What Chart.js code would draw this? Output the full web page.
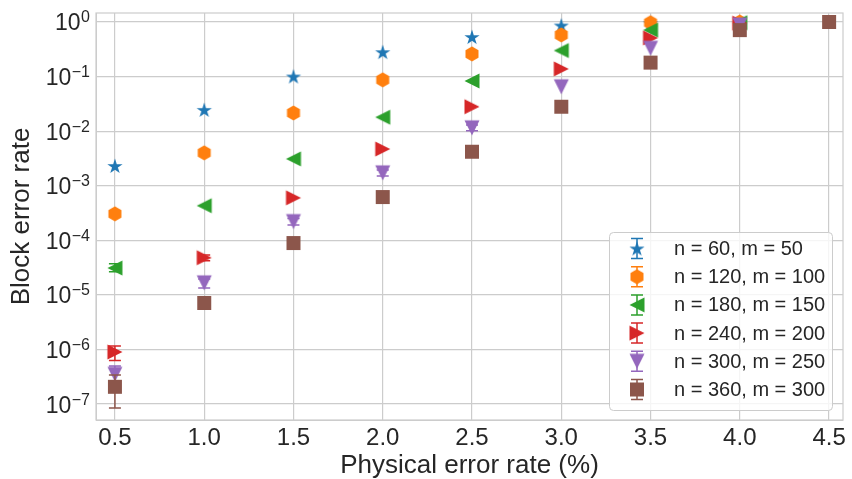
<!DOCTYPE html>
<html><head><meta charset="utf-8">
<script src="https://cdn.jsdelivr.net/npm/chart.js@4/dist/chart.umd.min.js"></script>
<style>html,body{margin:0;padding:0;background:#fff;overflow:hidden}</style>
</head><body>
<canvas id="c" width="852" height="479"></canvas>
<script>
// ---------------- data ----------------
const physicalErrorRates = [0.5, 1.0, 1.5, 2.0, 2.5, 3.0, 3.5, 4.0, 4.5];
const seriesLabels = ['n = 60, m = 50', 'n = 120, m = 100', 'n = 180, m = 150',
                      'n = 240, m = 200', 'n = 300, m = 250', 'n = 360, m = 300'];
const n60  = [2.3e-3, 2.45e-2, 0.10, 0.28, 0.53, 0.86, 0.95, null, null];
const n120 = [3.05e-4, 4.0e-3, 0.0215, 0.087, 0.26, 0.58, 0.97, 1.0, null];
const n180 = [3.1e-5, 4.3e-4, 3.1e-3, 0.018, 0.083, 0.30, 0.71, 0.97, null];
const n240 = [9.0e-7, 4.8e-5, 6.0e-4, 4.7e-3, 0.028, 0.138, 0.51, 0.95, null];
const n300 = [3.5e-7, 1.66e-5, 2.2e-4, 1.72e-3, 0.0115, 0.065, 0.33, 0.88, null];
const n360 = [2.07e-7, 7.1e-6, 8.9e-5, 6.2e-4, 4.2e-3, 0.028, 0.18, 0.71, 1.0];
// error bar bounds (null = no visible bar)
const n60Lo  = [null, null, null, null, null, null, null, null, null];
const n60Hi  = [null, null, null, null, null, null, null, null, null];
const n120Lo = [null, null, null, null, null, null, null, null, null];
const n120Hi = [null, null, null, null, null, null, null, null, null];
const n180Lo = [2.64e-5, null, null, null, null, null, null, null, null];
const n180Hi = [3.7e-5, null, null, null, null, null, null, null, null];
const n240Lo = [6.3e-7, 4.2e-5, null, null, null, null, null, null, null];
const n240Hi = [1.16e-6, 5.4e-5, null, null, null, null, null, null, null];
const n300Lo = [2.4e-7, 1.34e-5, 1.9e-4, 1.5e-3, 0.0102, null, null, null, null];
const n300Hi = [5.0e-7, 1.96e-5, 2.5e-4, 1.95e-3, 0.0130, null, null, null, null];
const n360Lo = [8.5e-8, null, null, null, null, null, null, null, null];
const n360Hi = [3.4e-7, null, null, null, null, null, null, null, null];
const xTickValues = [0.5, 1.0, 1.5, 2.0, 2.5, 3.0, 3.5, 4.0, 4.5];
const yTickExponents = [0, -1, -2, -3, -4, -5, -6, -7];
const xTitle = 'Physical error rate (%)';
const yTitle = 'Block error rate';

// ---------------- styling ----------------
const colors = ['#1f77b4', '#ff7f0e', '#2ca02c', '#d62728', '#9467bd', '#8c564b'];
const shapes = ['star', 'hexagon', 'left', 'right', 'down', 'square'];
const FONT = '"Liberation Sans", Arial, sans-serif';
const TEXT = '#262626';
const GRID = '#cccccc';

function markerCanvas(kind, color) {
  const S = 20, c = document.createElement('canvas');
  c.width = S; c.height = S;
  const g = c.getContext('2d');
  g.translate(S / 2, S / 2);
  g.fillStyle = color;
  g.beginPath();
  if (kind === 'star') {
    const R = 8, r = R * 0.381966;
    for (let k = 0; k < 10; k++) {
      const a = -Math.PI / 2 + k * Math.PI / 5, rr = k % 2 ? r : R;
      g.lineTo(rr * Math.cos(a), rr * Math.sin(a) + 0.6);
    }
  } else if (kind === 'hexagon') {
    const R = 7.5;
    for (let k = 0; k < 6; k++) {
      const a = -Math.PI / 2 + k * Math.PI / 3;
      g.lineTo(R * Math.cos(a), R * Math.sin(a));
    }
  } else if (kind === 'left') {
    const h = 7.5; g.moveTo(-h, 0); g.lineTo(h, -h); g.lineTo(h, h);
  } else if (kind === 'right') {
    const h = 7.5; g.moveTo(h, 0); g.lineTo(-h, -h); g.lineTo(-h, h);
  } else if (kind === 'down') {
    const h = 7.5; g.moveTo(0, h); g.lineTo(-h, -h); g.lineTo(h, -h);
  } else {
    const h = 7; g.rect(-h, -h, 2 * h, 2 * h);
  }
  g.closePath();
  g.fill();
  return c;
}

const seriesValues = [n60, n120, n180, n240, n300, n360];
const seriesLo = [n60Lo, n120Lo, n180Lo, n240Lo, n300Lo, n360Lo];
const seriesHi = [n60Hi, n120Hi, n180Hi, n240Hi, n300Hi, n360Hi];
const markers = shapes.map((s, i) => markerCanvas(s, colors[i]));

const datasets = seriesValues.map((vals, i) => {
  const pts = [];
  vals.forEach((v, j) => {
    if (v !== null) pts.push({x: physicalErrorRates[j], y: v, lo: seriesLo[i][j], hi: seriesHi[i][j]});
  });
  return {
    label: seriesLabels[i],
    data: pts,
    pointStyle: markers[i],
    pointRadius: 8,
    pointHoverRadius: 8,
    showLine: false,
    order: 6 - i,
    backgroundColor: colors[i],
    borderColor: colors[i]
  };
});

function drawErrorBar(ctx, x, yTop, yBot, color) {
  ctx.save();
  ctx.strokeStyle = color;
  ctx.lineWidth = 1.5;
  ctx.beginPath();
  ctx.moveTo(x, yTop); ctx.lineTo(x, yBot);
  ctx.moveTo(x - 6, yTop); ctx.lineTo(x + 6, yTop);
  ctx.moveTo(x - 6, yBot); ctx.lineTo(x + 6, yBot);
  ctx.stroke();
  ctx.restore();
}

const errorBarPlugin = {
  id: 'errorBars',
  beforeDatasetDraw(chart, args) {
    const ctx = chart.ctx, ys = chart.scales.y, xs = chart.scales.x;
    const ds = chart.data.datasets[args.index];
    ctx.save();
    const a = chart.chartArea;
    ctx.beginPath(); ctx.rect(a.left, a.top, a.right - a.left, a.bottom - a.top); ctx.clip();
    ds.data.forEach(p => {
      if (p.lo == null || p.hi == null) return;
      drawErrorBar(ctx, xs.getPixelForValue(p.x), ys.getPixelForValue(p.hi), ys.getPixelForValue(p.lo), colors[args.index]);
    });
    ctx.restore();
  }
};

const decorPlugin = {
  id: 'decor',
  beforeDraw(chart) {
    const ctx = chart.ctx;
    ctx.save(); ctx.fillStyle = '#fff'; ctx.fillRect(0, 0, chart.width, chart.height); ctx.restore();
  },
  afterDraw(chart) {
    const ctx = chart.ctx, a = chart.chartArea, xs = chart.scales.x, ys = chart.scales.y;
    ctx.save();
    // frame
    ctx.strokeStyle = GRID; ctx.lineWidth = 1.2;
    ctx.strokeRect(a.left, a.top, a.right - a.left, a.bottom - a.top);
    ctx.fillStyle = TEXT;
    // x tick labels
    ctx.font = '24px ' + FONT;
    ctx.textAlign = 'center'; ctx.textBaseline = 'alphabetic';
    xTickValues.forEach(v => ctx.fillText(v.toFixed(1), xs.getPixelForValue(v), 445));
    // y tick labels
    yTickExponents.forEach(e => {
      const gy = ys.getPixelForValue(Math.pow(10, e));
      const expStr = e === 0 ? '0' : '\u2212' + Math.abs(e);
      ctx.font = '16px ' + FONT;
      ctx.textAlign = 'right';
      ctx.fillText(expStr, 90, gy + 0.5);
      const w = ctx.measureText(expStr).width;
      ctx.font = '23px ' + FONT;
      ctx.fillText('10', 90 - w - 0.5, gy + 8.5);
    });
    // axis titles
    ctx.font = '26px ' + FONT;
    ctx.textAlign = 'center';
    ctx.fillText(xTitle, (a.left + a.right) / 2, 473);
    ctx.save();
    ctx.translate(22, (a.top + a.bottom) / 2);
    ctx.rotate(-Math.PI / 2);
    ctx.textBaseline = 'middle';
    ctx.fillText(yTitle, 0, 0);
    ctx.restore();
    // legend
    const L = 609.5, T = 232.5, W = 223, H = 178;
    ctx.beginPath();
    ctx.roundRect(L, T, W, H, 4);
    ctx.fillStyle = 'rgba(255,255,255,0.8)';
    ctx.fill();
    ctx.strokeStyle = GRID; ctx.lineWidth = 1;
    ctx.stroke();
    seriesLabels.forEach((lab, i) => {
      const cy = 248.5 + i * 28.2;
      drawErrorBar(ctx, 637, cy - 10, cy + 10, colors[i]);
      ctx.drawImage(markers[i], 637 - 10, cy - 10);
      ctx.fillStyle = TEXT;
      ctx.font = '20px ' + FONT;
      ctx.textAlign = 'left'; ctx.textBaseline = 'middle';
      ctx.fillText(lab, 674, cy + 1);
    });
    ctx.restore();
  }
};

new Chart(document.getElementById('c'), {
  type: 'scatter',
  data: {datasets},
  plugins: [errorBarPlugin, decorPlugin],
  options: {
    responsive: false,
    animation: false,
    devicePixelRatio: 1,
    events: [],
    layout: {padding: {left: 0, right: 6, top: 13, bottom: 0}},
    plugins: {legend: {display: false}, tooltip: {enabled: false}},
    scales: {
      x: {
        type: 'linear', min: 0.394, max: 4.578,
        afterBuildTicks: s => { s.ticks = xTickValues.map(v => ({value: v})); },
        afterFit: s => { s.height = 59; },
        ticks: {display: false},
        grid: {color: GRID, lineWidth: 1.2, drawTicks: false},
        border: {display: true, color: GRID}
      },
      y: {
        type: 'logarithmic', min: 5.1e-8, max: 1.46,
        afterBuildTicks: s => { s.ticks = yTickExponents.map(e => ({value: Math.pow(10, e)})); },
        afterFit: s => { s.width = 96; },
        ticks: {display: false},
        grid: {color: GRID, lineWidth: 1.2, drawTicks: false},
        border: {display: true, color: GRID}
      }
    }
  }
});
</script>
</body></html>
